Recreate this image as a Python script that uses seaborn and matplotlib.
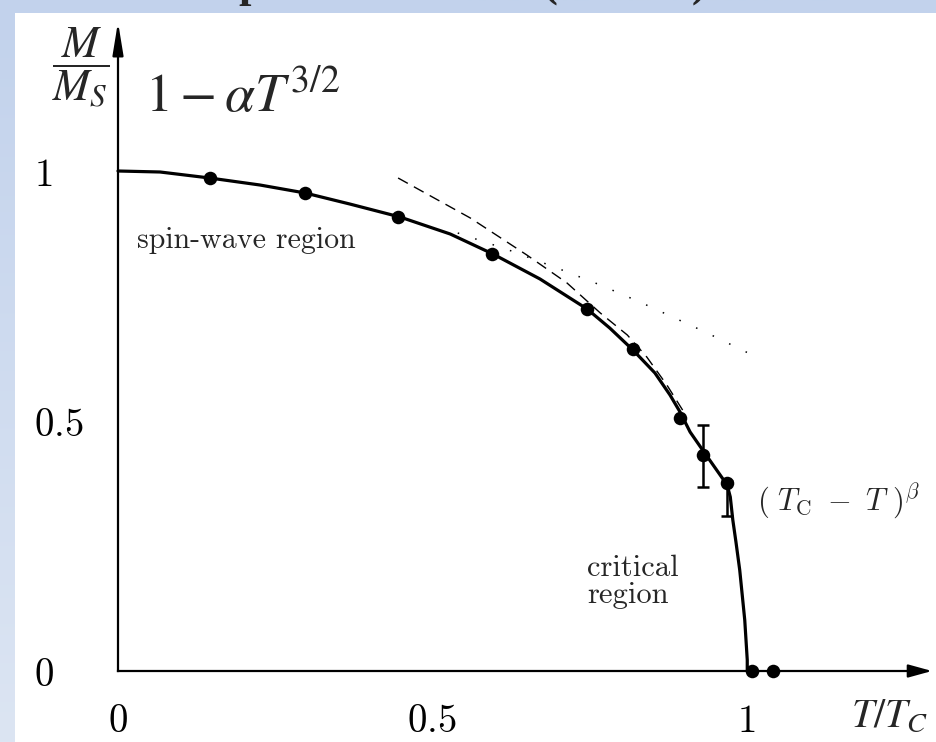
import numpy as np
import matplotlib
matplotlib.use("Agg")
import matplotlib.pyplot as plt
from matplotlib.colors import LinearSegmentedColormap
import seaborn as sns

# Measured points: reduced temperature T/Tc and reduced magnetization M/Ms
t_data = [0.146, 0.298, 0.446, 0.596, 0.747, 0.820, 0.895, 0.932, 0.970, 1.010, 1.043]
m_data = [0.986, 0.956, 0.908, 0.834, 0.724, 0.644, 0.506, 0.432, 0.376, 0.0, 0.0]

# Points carrying error bars (lower / upper extent)
err_t = [0.932, 0.970]
err_m = [0.432, 0.376]
err_lo = [0.064, 0.066]
err_hi = [0.060, 0.004]

# Full magnetization curve
curve_t = [0.0, 0.067, 0.146, 0.226, 0.298, 0.369, 0.449, 0.529, 0.597, 0.672,
           0.747, 0.783, 0.820, 0.855, 0.879, 0.895, 0.911, 0.932, 0.951, 0.970,
           0.975, 0.979, 0.984, 0.990, 0.998, 1.002, 1.002]
curve_m = [1.0, 0.998, 0.986, 0.972, 0.956, 0.934, 0.908, 0.874, 0.834, 0.784,
           0.724, 0.686, 0.642, 0.596, 0.552, 0.518, 0.478, 0.440, 0.406, 0.372,
           0.348, 0.302, 0.258, 0.202, 0.102, 0.022, 0.0]

# Low-temperature spin-wave law 1 - a T^{3/2} (dotted)
spin_t = [0.541, 0.620, 0.699, 0.768, 0.831, 0.935, 1.010]
spin_m = [0.876, 0.843, 0.806, 0.772, 0.738, 0.678, 0.632]

# Critical power law (Tc - T)^beta (dashed)
crit_t = [0.446, 0.561, 0.651, 0.715, 0.768, 0.811, 0.842, 0.874, 0.900]
crit_m = [0.986, 0.906, 0.832, 0.776, 0.716, 0.672, 0.628, 0.572, 0.520]

xticks = [0, 0.5, 1]
xtick_labels = ["0", "0.5", "1"]
yticks = [0, 0.5, 1]
ytick_labels = ["0", "0.5", "1"]

title_glyphs = ["/", "p", "(", ")"]

sns.set_style("white")
plt.rcParams["mathtext.fontset"] = "cm"
plt.rcParams["font.family"] = ["DejaVu Sans"]

W, H, DPI = 937, 742, 100
fig = plt.figure(figsize=(W / DPI, H / DPI), dpi=DPI)

# slide-style blue backdrop
ax_bg = fig.add_axes([0, 0, 1, 1])
grad = np.linspace(0, 1, 256).reshape(-1, 1)
cmap = LinearSegmentedColormap.from_list("slide", ["#c2d2ec", "#dce5f3"])
ax_bg.imshow(grad, aspect="auto", cmap=cmap, extent=[0, 1, 0, 1])
ax_bg.set_xlim(0, 1)
ax_bg.set_ylim(0, 1)
ax_bg.axis("off")
# heading running off the top edge: only the descenders remain in view
for g, xp in zip(title_glyphs, [20, 238, 543, 692]):
    ax_bg.text(xp / W, 1 + 3 / H, g, fontsize=32, family="Liberation Serif",
               weight="bold", ha="left", va="baseline", clip_on=False)

# white panel holding the plot
PL, PT = 15, 13
ax = fig.add_axes([PL / W, 0, (W - PL) / W, (H - PT) / H])
ax.set_facecolor("white")

X0, SX = 118, 628   # pixel of T=0, pixels per unit
Y0, SY = 671, 500   # pixel of M=0, pixels per unit


def px(xp, yp):
    return (xp - X0) / SX, (Y0 - yp) / SY


ax.set_xlim((PL - X0) / SX, (W - X0) / SX)
ax.set_ylim((Y0 - H) / SY, (Y0 - PT) / SY)

# axes through the origin with arrowheads
for side in ["top", "right"]:
    ax.spines[side].set_visible(False)
x_end = px(918, 0)[0]
y_end = px(0, 40)[1]
ax.spines["left"].set_position(("data", 0))
ax.spines["bottom"].set_position(("data", 0))
ax.spines["left"].set_bounds(0, y_end)
ax.spines["bottom"].set_bounds(0, x_end)
for side in ["left", "bottom"]:
    ax.spines[side].set_linewidth(1.6)
    ax.spines[side].set_color("black")
ax.annotate("", xy=(px(932, 0)[0], 0), xytext=(x_end - 0.01, 0),
            arrowprops=dict(arrowstyle="-|>,head_length=0.8,head_width=0.22",
                            color="black", lw=1.6, mutation_scale=18,
                            shrinkA=0, shrinkB=0))
ax.annotate("", xy=(0, px(0, 22)[1]), xytext=(0, y_end - 0.02),
            arrowprops=dict(arrowstyle="-|>,head_length=1.1,head_width=0.18",
                            color="black", lw=1.6, mutation_scale=18,
                            shrinkA=0, shrinkB=0))

ax.set_xticks(xticks, labels=["$" + s + "$" for s in xtick_labels])
ax.set_yticks(yticks, labels=["$" + s + "$" for s in ytick_labels])
ax.tick_params(axis="x", direction="out", length=14, width=1.5, pad=8,
               labelsize=28, colors="black")
ax.tick_params(axis="y", direction="out", length=16.5, width=1.5, pad=44,
               labelsize=28, colors="black")
for lab in ax.get_yticklabels():
    lab.set_horizontalalignment("left")

# curves
sns.lineplot(x=curve_t, y=curve_m, sort=False, estimator=None, color="black",
             linewidth=2.3, ax=ax, zorder=4)
ax.lines[-1].set_solid_joinstyle("round")
sns.lineplot(x=crit_t, y=crit_m, sort=False, estimator=None, color="black",
             linewidth=1.0, ax=ax, zorder=3)
ax.lines[-1].set_linestyle((0, (8, 5)))
sns.lineplot(x=spin_t, y=spin_m, sort=False, estimator=None, color="black",
             linewidth=1.1, ax=ax, zorder=3)
ax.lines[-1].set_linestyle((0, (1, 11)))

# data points and error bars
ax.errorbar(err_t, err_m, yerr=[err_lo, err_hi], fmt="none", ecolor="black",
            elinewidth=1.8, capsize=4.5, capthick=1.8, zorder=5)
sns.scatterplot(x=t_data, y=m_data, color="black", s=95, linewidth=0,
                ax=ax, zorder=6)

# labels and annotations
ax.text(*px(81, 68), r"$\dfrac{M}{M_S}$", math_fontfamily="stix",
        fontsize=32, ha="center", va="center")
ax.text(*px(145, 112), r"$1-\alpha T^{3/2}$", math_fontfamily="stix",
        fontsize=39, ha="left", va="baseline")
ax.text(*px(137, 248), "spin-wave region", family="cmr10", fontsize=21.5,
        ha="left", va="baseline")
ax.text(*px(587, 555), "critical\nregion", family="cmr10", fontsize=22,
        ha="left", va="top", linespacing=0.95)
ax.text(*px(757, 510), r"$(\ T_{\mathrm{C}}\ -\ T\ )^{\beta}$", fontsize=22,
        ha="left", va="baseline")
ax.text(*px(890, 727), r"$T/T_C$", math_fontfamily="stix", fontsize=29,
        ha="center", va="baseline")

fig.savefig("out.png", dpi=DPI, facecolor=fig.get_facecolor())
